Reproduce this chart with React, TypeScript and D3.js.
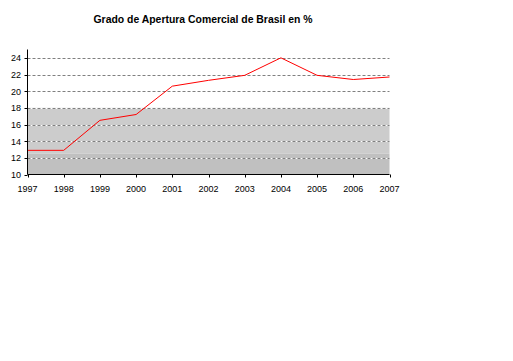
import * as d3 from 'd3';

const years = [1997, 1998, 1999, 2000, 2001, 2002, 2003, 2004, 2005, 2006, 2007];
const apertura = [12.9, 12.9, 16.5, 17.2, 20.6, 21.3, 21.9, 24.0, 21.9, 21.4, 21.7];
const yTicks = [10, 12, 14, 16, 18, 20, 22, 24];
const title = 'Grado de Apertura Comercial de Brasil en %';

const W = 513;
const H = 361;

const App = () => {
  const x = d3.scaleLinear().domain([1997, 2007]).range([27.5, 389.5]);
  const y = d3.scaleLinear().domain([10, 25]).range([174.5, 49.5]);

  const line = d3.line<number>()
    .x((_, i) => x(years[i]))
    .y(d => y(d));

  const font = 'Arial, "Liberation Sans", sans-serif';

  return (
    <svg width={W} height={H} style={{ position: 'fixed', left: 0, top: 0, background: '#fff' }}>
      {/* shaded bands */}
      <rect x={x(1997)} y={y(18)} width={x(2007) - x(1997)} height={y(12.5) - y(18)} fill="#cccccc" />
      <rect x={x(1997)} y={y(12.5)} width={x(2007) - x(1997)} height={y(10) - y(12.5)} fill="#c0c0c0" />

      {/* grid */}
      {yTicks.filter(t => t > 10).map(t => (
        <g key={t}>
          <line x1={x(1997)} x2={x(2007)} y1={Math.round(y(t)) + 0.5} y2={Math.round(y(t)) + 0.5} stroke="#fff" />
          <line x1={x(1997)} x2={x(2007)} y1={Math.round(y(t)) + 0.5} y2={Math.round(y(t)) + 0.5}
            stroke="#808080" strokeDasharray="3,2" />
        </g>
      ))}

      {/* data line */}
      <path d={line(apertura) ?? ''} fill="none" stroke="#ff0000" strokeWidth={1} />

      {/* axes */}
      <line x1={x(1997)} x2={x(1997)} y1={y(25)} y2={y(10)} stroke="#000" />
      <line x1={x(1997)} x2={x(2007)} y1={y(10)} y2={y(10)} stroke="#000" />
      {yTicks.map(t => (
        <g key={t}>
          <line x1={x(1997) - 3} x2={x(1997)} y1={Math.round(y(t)) + 0.5} y2={Math.round(y(t)) + 0.5} stroke="#000" />
          <text x={21} y={y(t) + 3.5} textAnchor="end" fontFamily={font} fontSize={9}>{t}</text>
        </g>
      ))}
      {years.map(yr => (
        <g key={yr}>
          <line x1={Math.round(x(yr)) + 0.5} x2={Math.round(x(yr)) + 0.5} y1={y(10)} y2={y(10) + 3} stroke="#000" />
          <text x={x(yr)} y={191.5} textAnchor="middle" fontFamily={font} fontSize={9}>{yr}</text>
        </g>
      ))}

      <text x={203} y={22.5} textAnchor="middle" fontFamily={font} fontSize={11} fontWeight="bold"
        textLength={219} lengthAdjust="spacingAndGlyphs">{title}</text>
    </svg>
  );
};

export default App;
